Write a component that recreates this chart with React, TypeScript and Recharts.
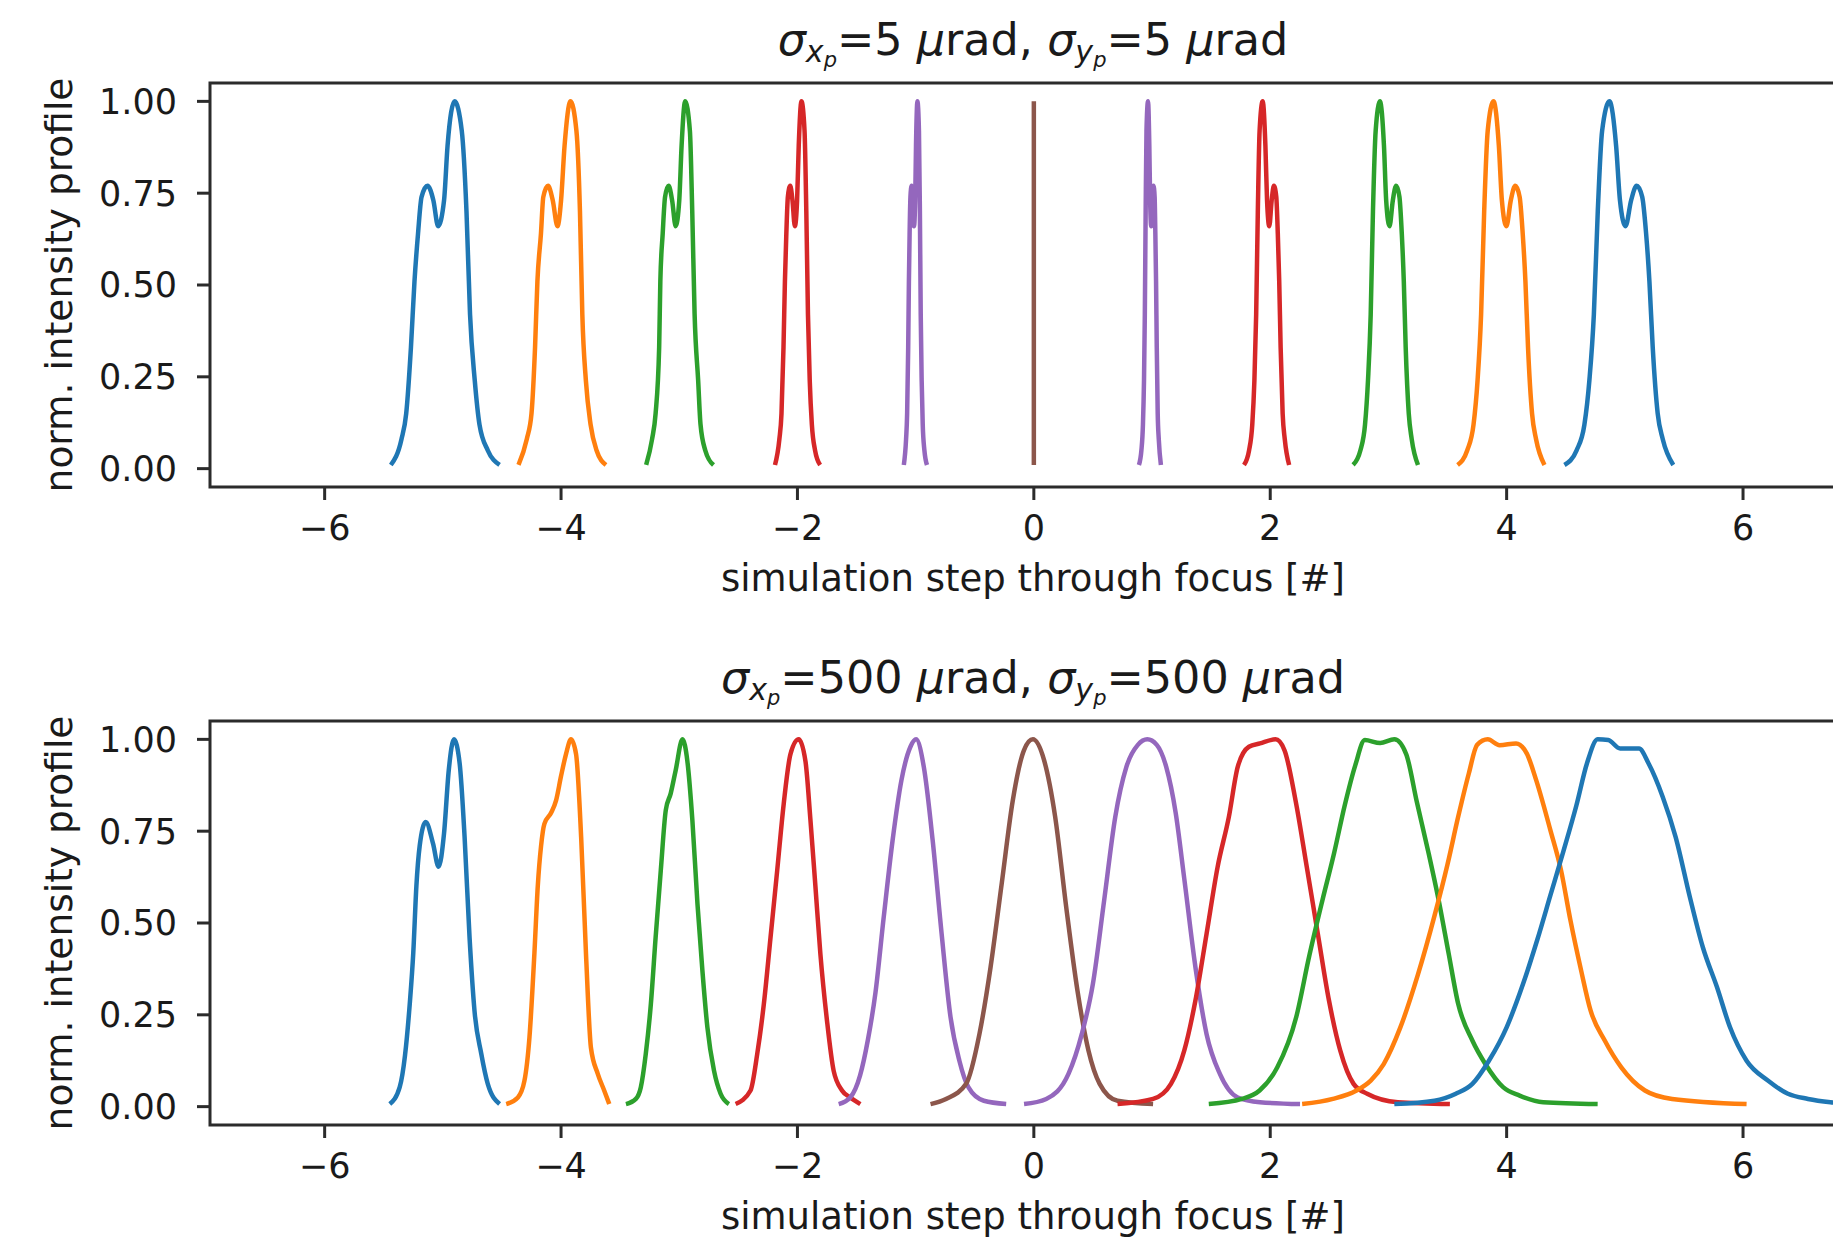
import { LineChart, Line, XAxis, YAxis, ReferenceArea } from "recharts"

const BLUE = "#1f77b4"
const ORANGE = "#ff7f0e"
const GREEN = "#2ca02c"
const RED = "#d62728"
const PURPLE = "#9467bd"
const BROWN = "#8c564b"

const xTicks = [-6, -4, -2, 0, 2, 4, 6]
const yTicks = [0, 0.25, 0.5, 0.75, 1]
const stepColors = [BLUE, ORANGE, GREEN, RED, PURPLE, BROWN, PURPLE, RED, GREEN, ORANGE, BLUE]
const titleSigmas = ["5", "500"]

// top panel: every step has the same profile, only its width changes
const topProfileY = [0.01, 0.08, 0.15, 0.33, 0.51, 0.64, 0.74, 0.77, 0.73, 0.66, 0.73, 0.88, 1.0, 0.92, 0.7, 0.42, 0.24, 0.12, 0.05, 0.01]
const topProfileYMirror = [0.01, 0.05, 0.12, 0.24, 0.42, 0.7, 0.92, 1.0, 0.88, 0.73, 0.66, 0.73, 0.77, 0.74, 0.64, 0.51, 0.33, 0.15, 0.08, 0.01]

const topXm5 = [-5.44, -5.35, -5.31, -5.27, -5.24, -5.21, -5.18, -5.13, -5.08, -5.04, -4.99, -4.96, -4.9, -4.84, -4.8, -4.77, -4.73, -4.69, -4.62, -4.52]
const topXm4 = [-4.36, -4.29, -4.25, -4.22, -4.2, -4.17, -4.15, -4.11, -4.07, -4.03, -4.0, -3.97, -3.92, -3.87, -3.84, -3.82, -3.79, -3.75, -3.7, -3.62]
const topXm3 = [-3.28, -3.23, -3.2, -3.17, -3.16, -3.14, -3.12, -3.09, -3.06, -3.03, -3.0, -2.98, -2.95, -2.91, -2.89, -2.87, -2.84, -2.82, -2.78, -2.71]
const topXm2 = [-2.19, -2.153, -2.135, -2.118, -2.106, -2.094, -2.081, -2.061, -2.042, -2.022, -2.003, -1.989, -1.966, -1.94, -1.925, -1.911, -1.896, -1.878, -1.851, -1.808]
const topXm1 = [-1.1, -1.081, -1.072, -1.063, -1.057, -1.051, -1.044, -1.034, -1.024, -1.014, -1.004, -0.997, -0.985, -0.972, -0.964, -0.957, -0.949, -0.94, -0.926, -0.904]
const topX0 = [0, 0, 0, 0, 0, 0, 0, 0, 0, 0, 0, 0, 0, 0, 0, 0, 0, 0, 0, 0]
const topXp1 = [0.889, 0.91, 0.923, 0.932, 0.939, 0.946, 0.953, 0.966, 0.977, 0.984, 0.993, 1.003, 1.012, 1.022, 1.028, 1.034, 1.04, 1.048, 1.057, 1.075]
const topXp2 = [1.778, 1.821, 1.848, 1.866, 1.881, 1.895, 1.91, 1.936, 1.959, 1.973, 1.992, 2.012, 2.031, 2.051, 2.064, 2.076, 2.088, 2.105, 2.123, 2.16]
const topXp3 = [2.701, 2.763, 2.802, 2.827, 2.85, 2.869, 2.892, 2.928, 2.962, 2.981, 3.009, 3.037, 3.065, 3.093, 3.113, 3.13, 3.146, 3.172, 3.197, 3.25]
const topXp4 = [3.585, 3.667, 3.72, 3.754, 3.784, 3.81, 3.84, 3.889, 3.934, 3.96, 3.998, 4.035, 4.073, 4.11, 4.136, 4.159, 4.181, 4.215, 4.249, 4.32]
const topXp5 = [4.489, 4.592, 4.658, 4.7, 4.738, 4.771, 4.808, 4.87, 4.926, 4.959, 5.006, 5.053, 5.1, 5.147, 5.18, 5.208, 5.236, 5.278, 5.321, 5.41]

// bottom panel: [x, y]
const botM5: [number, number][] = [[-5.449, 0.007], [-5.365, 0.053], [-5.32, 0.14], [-5.28, 0.28], [-5.25, 0.42], [-5.224, 0.6], [-5.196, 0.71], [-5.145, 0.775], [-5.083, 0.716], [-5.036, 0.653], [-4.99, 0.744], [-4.95, 0.916], [-4.906, 1.0], [-4.858, 0.935], [-4.816, 0.734], [-4.774, 0.46], [-4.732, 0.26], [-4.675, 0.144], [-4.62, 0.062], [-4.52, 0.007]]
const botM4: [number, number][] = [[-4.464, 0.007], [-4.365, 0.025], [-4.31, 0.07], [-4.267, 0.19], [-4.225, 0.42], [-4.197, 0.6], [-4.169, 0.71], [-4.141, 0.77], [-4.084, 0.8], [-4.042, 0.834], [-4.0, 0.9], [-3.958, 0.96], [-3.916, 1.0], [-3.873, 0.96], [-3.83, 0.734], [-3.789, 0.416], [-3.747, 0.16], [-3.69, 0.09], [-3.635, 0.044], [-3.592, 0.007]]
const botM3: [number, number][] = [[-3.451, 0.007], [-3.367, 0.021], [-3.325, 0.053], [-3.283, 0.144], [-3.24, 0.28], [-3.2, 0.46], [-3.156, 0.644], [-3.114, 0.807], [-3.072, 0.853], [-3.03, 0.916], [-2.973, 1.0], [-2.931, 0.94], [-2.889, 0.78], [-2.846, 0.553], [-2.804, 0.37], [-2.762, 0.216], [-2.706, 0.098], [-2.65, 0.035], [-2.58, 0.007]]
const botM2: [number, number][] = [[-2.523, 0.007], [-2.397, 0.044], [-2.34, 0.144], [-2.284, 0.28], [-2.228, 0.46], [-2.171, 0.644], [-2.116, 0.825], [-2.059, 0.96], [-1.989, 1.0], [-1.932, 0.94], [-1.89, 0.78], [-1.848, 0.6], [-1.806, 0.416], [-1.75, 0.234], [-1.694, 0.098], [-1.623, 0.044], [-1.553, 0.025], [-1.468, 0.007]]
const botM1: [number, number][] = [[-1.651, 0.007], [-1.553, 0.025], [-1.47, 0.085], [-1.405, 0.18], [-1.34, 0.31], [-1.27, 0.516], [-1.195, 0.725], [-1.12, 0.889], [-1.044, 0.98], [-0.996, 1.0], [-0.931, 0.925], [-0.856, 0.725], [-0.78, 0.47], [-0.705, 0.244], [-0.63, 0.125], [-0.554, 0.053], [-0.423, 0.016], [-0.234, 0.007]]
const bot0: [number, number][] = [[-0.874, 0.007], [-0.743, 0.021], [-0.573, 0.062], [-0.46, 0.198], [-0.366, 0.38], [-0.272, 0.607], [-0.178, 0.834], [-0.083, 0.971], [-0.008, 1.0], [0.086, 0.944], [0.18, 0.79], [0.274, 0.543], [0.369, 0.316], [0.462, 0.153], [0.557, 0.062], [0.708, 0.016], [1.009, 0.007]]
const botP1: [number, number][] = [[-0.083, 0.007], [0.105, 0.021], [0.293, 0.089], [0.406, 0.198], [0.5, 0.335], [0.595, 0.562], [0.689, 0.789], [0.783, 0.925], [0.88, 0.985], [0.96, 1.0], [1.04, 0.985], [1.12, 0.925], [1.2, 0.8], [1.273, 0.62], [1.367, 0.38], [1.461, 0.198], [1.574, 0.089], [1.725, 0.025], [1.913, 0.012], [2.252, 0.007]]
const botP2: [number, number][] = [[0.708, 0.007], [1.009, 0.021], [1.16, 0.062], [1.273, 0.153], [1.367, 0.289], [1.461, 0.47], [1.555, 0.653], [1.65, 0.789], [1.725, 0.925], [1.82, 0.98], [1.913, 0.989], [2.045, 1.0], [2.12, 0.971], [2.214, 0.834], [2.309, 0.653], [2.403, 0.47], [2.497, 0.289], [2.592, 0.153], [2.705, 0.062], [2.82, 0.035], [3.08, 0.012], [3.52, 0.007]]
const botP3: [number, number][] = [[1.48, 0.007], [1.76, 0.021], [1.91, 0.044], [2.06, 0.107], [2.22, 0.244], [2.33, 0.41], [2.44, 0.56], [2.54, 0.69], [2.63, 0.82], [2.72, 0.93], [2.8, 0.998], [2.93, 0.99], [3.05, 1.0], [3.15, 0.96], [3.24, 0.83], [3.34, 0.69], [3.42, 0.57], [3.51, 0.416], [3.59, 0.28], [3.71, 0.18], [3.82, 0.116], [3.97, 0.053], [4.11, 0.03], [4.31, 0.012], [4.77, 0.007]]
const botP4: [number, number][] = [[2.27, 0.007], [2.53, 0.021], [2.73, 0.044], [2.85, 0.071], [2.96, 0.116], [3.1, 0.215], [3.25, 0.36], [3.39, 0.52], [3.5, 0.66], [3.59, 0.789], [3.68, 0.907], [3.75, 0.985], [3.84, 1.0], [3.94, 0.984], [4.08, 0.989], [4.17, 0.962], [4.25, 0.889], [4.37, 0.753], [4.46, 0.644], [4.54, 0.507], [4.63, 0.371], [4.71, 0.262], [4.83, 0.18], [4.97, 0.107], [5.17, 0.044], [5.4, 0.021], [6.03, 0.007]]
const botP5: [number, number][] = [[3.05, 0.007], [3.39, 0.016], [3.57, 0.035], [3.71, 0.062], [3.85, 0.125], [4.0, 0.216], [4.14, 0.335], [4.26, 0.455], [4.37, 0.575], [4.48, 0.695], [4.59, 0.82], [4.68, 0.935], [4.77, 1.0], [4.86, 0.998], [4.96, 0.975], [5.12, 0.975], [5.2, 0.935], [5.32, 0.844], [5.43, 0.734], [5.55, 0.571], [5.66, 0.434], [5.78, 0.325], [5.89, 0.216], [6.03, 0.125], [6.21, 0.071], [6.38, 0.035], [6.55, 0.021], [6.74, 0.012], [6.95, 0.007]]

type Pt = { x: number; y: number }

const zip = (xs: number[], ys: number[]): Pt[] => xs.map((x, i) => ({ x, y: ys[i] }))
const fromPairs = (p: [number, number][]): Pt[] => p.map(([x, y]) => ({ x, y }))

const topCurves: Pt[][] = [
  zip(topXm5, topProfileY), zip(topXm4, topProfileY), zip(topXm3, topProfileY),
  zip(topXm2, topProfileY), zip(topXm1, topProfileY), zip(topX0, topProfileY),
  zip(topXp1, topProfileYMirror), zip(topXp2, topProfileYMirror), zip(topXp3, topProfileYMirror),
  zip(topXp4, topProfileYMirror), zip(topXp5, topProfileYMirror),
]
const bottomCurves: Pt[][] = [botM5, botM4, botM3, botM2, botM1, bot0, botP1, botP2, botP3, botP4, botP5].map(fromPairs)

const X_DOMAIN: [number, number] = [-6.97, 6.96]
const Y_DOMAIN: [number, number] = [-0.05, 1.05]
const INK = "#1a1a1a"
const SPINE = "#2b2b2b"
const FONT = "DejaVu Sans"

const fmtX = (v: number) => (v < 0 ? "\u2212" + Math.abs(v) : String(v))

function Panel({ curves }: { curves: Pt[][] }) {
  const tick = { fontSize: 35, fill: INK, fontFamily: FONT }
  const tickLine = { stroke: SPINE, strokeWidth: 3 }
  return (
    <LineChart width={1900} height={620} margin={{ top: 83, right: 43.5, bottom: 33, left: 110 }}>
      <XAxis type="number" dataKey="x" domain={X_DOMAIN} allowDataOverflow ticks={xTicks} interval={0}
        tickFormatter={fmtX} tick={tick} tickLine={tickLine} tickSize={13} tickMargin={15} axisLine={false} height={100} />
      <YAxis type="number" dataKey="y" domain={Y_DOMAIN} allowDataOverflow ticks={yTicks} interval={0}
        tickFormatter={(v: number) => v.toFixed(2)} tick={tick} tickLine={tickLine} tickSize={13} tickMargin={20} axisLine={false} width={100} />
      <ReferenceArea x1={X_DOMAIN[0]} x2={X_DOMAIN[1]} y1={Y_DOMAIN[0]} y2={Y_DOMAIN[1]}
        fill="none" fillOpacity={0} stroke={SPINE} strokeWidth={3} ifOverflow="visible" />
      {curves.map((pts, i) => (
        <Line key={i} data={pts} dataKey="y" stroke={stepColors[i]} strokeWidth={4.5}
          type={pts[0].x === pts[pts.length - 1].x ? "linear" : "monotone"}
          dot={false} activeDot={false} isAnimationActive={false} />
      ))}
    </LineChart>
  )
}

function Title({ y, val }: { y: number; val: string }) {
  return (
    <text x={1033} y={y} textAnchor="middle" fontSize={44.5} fill={INK} fontFamily={FONT}>
      <tspan fontStyle="italic">σ</tspan>
      <tspan fontStyle="italic" fontSize={30} dy={7}>x</tspan>
      <tspan fontStyle="italic" fontSize={21} dy={5}>p</tspan>
      <tspan dy={-12}>{`=${val} `}</tspan>
      <tspan fontStyle="italic">μ</tspan>
      <tspan>{"rad, "}</tspan>
      <tspan fontStyle="italic">σ</tspan>
      <tspan fontStyle="italic" fontSize={30} dy={7}>y</tspan>
      <tspan fontStyle="italic" fontSize={21} dy={5}>p</tspan>
      <tspan dy={-12}>{`=${val} `}</tspan>
      <tspan fontStyle="italic">μ</tspan>
      <tspan>rad</tspan>
    </text>
  )
}

function AxisLabels({ dy }: { dy: number }) {
  return (
    <g>
      <text x={1033} y={591 + dy} textAnchor="middle" fontSize={37} fill={INK} fontFamily={FONT}>
        simulation step through focus [#]
      </text>
      <text x={72} y={285 + dy} textAnchor="middle" fontSize={37.5} fill={INK} fontFamily={FONT}
        transform={`rotate(-90, 72, ${285 + dy})`}>
        norm. intensity profile
      </text>
    </g>
  )
}

export default function App() {
  return (
    <div style={{ position: "fixed", left: 0, top: 0, width: 1833, height: 1239, overflow: "hidden", background: "#fff", fontFamily: FONT }}>
      <div style={{ position: "absolute", left: 0, top: 0 }}>
        <Panel curves={topCurves} />
      </div>
      <div style={{ position: "absolute", left: 0, top: 638 }}>
        <Panel curves={bottomCurves} />
      </div>
      <svg width={1833} height={1239} style={{ position: "absolute", left: 0, top: 0, pointerEvents: "none" }}>
        <Title y={55} val={titleSigmas[0]} />
        <Title y={693} val={titleSigmas[1]} />
        <AxisLabels dy={0} />
        <AxisLabels dy={638} />
      </svg>
    </div>
  )
}
